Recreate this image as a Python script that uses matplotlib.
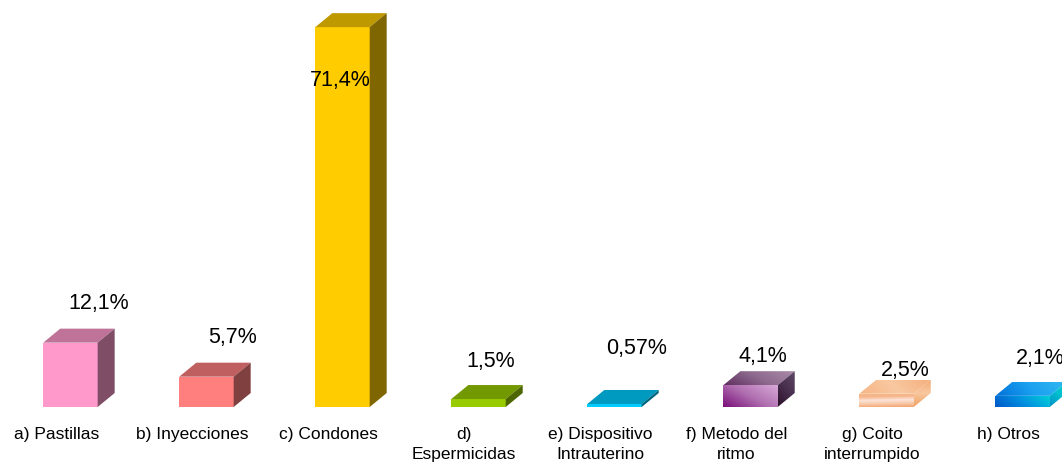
import matplotlib
matplotlib.use("Agg")
import matplotlib.pyplot as plt
import numpy as np
from matplotlib.patches import Polygon
from matplotlib.colors import LinearSegmentedColormap

plt.rcParams['font.family'] = ['Liberation Sans', 'DejaVu Sans']

categories = ["a) Pastillas", "b) Inyecciones", "c) Condones", "d)\nEspermicidas",
              "e) Dispositivo\nIntrauterino", "f) Metodo del\nritmo",
              "g) Coito\ninterrumpido", "h) Otros"]
values = [12.1, 5.7, 71.4, 1.5, 0.57, 4.1, 2.5, 2.1]
value_labels = ["12,1%", "5,7%", "71,4%", "1,5%", "0,57%", "4,1%", "2,5%", "2,1%"]

# where each value label sits relative to the top of its bar (x units, % units)
label_dx = [0.21, 0.19, -0.02, 0.09, 0.165, 0.09, 0.14, 0.13]
label_dy = [7.4, 7.45, -10.0, 7.1, 10.5, 5.3, 4.45, 7.1]

# (front, top, side) for the plain bars; None means a gradient is drawn instead
face_colors = [
    ("#FF99CC", "#BF7399", "#804D66"),
    ("#FF7F7F", "#BF5F5F", "#804040"),
    ("#FFCC00", "#BF9900", "#806600"),
    ("#99CC00", "#739900", "#4D6600"),
    ("#00CCFF", "#0099BF", "#006680"),
    None, None, None,
]
# gradient faces: (front, top, side), each (colors, angle in degrees)
grad_faces = {
    5: ((["#7A0F7A", "#B070B0", "#D8A8D8"], 35),
        (["#5E2E5E", "#8E6A8E", "#A88AA8"], 20),
        (["#2A1028", "#4A3050", "#5E4A66"], 60)),
    6: ((["#F4A46C", "#F8C8A8", "#FCE4DA", "#F6B488", "#F8B888"], 95),
        (["#F7B585", "#F9C8A0", "#F5B080"], 10),
        (["#F0A060", "#F8C8A0", "#F3AA70"], 90)),
    7: ((["#0058C8", "#0090E0", "#00D0D8"], 15),
        (["#0070D8", "#1AA0F0", "#30B8F0"], 10),
        (["#0090C8", "#00C0D0", "#10D0C8"], 60)),
}

width = 0.4
dx, dy = 0.125, 2.63

fig = plt.figure(figsize=(10.62, 4.7), dpi=100)
ax = fig.add_axes([0, 0, 1, 1])
ax.axis('off')

x = np.arange(len(categories))


def gradient_fill(ax, patch, colors, angle):
    ax.add_patch(patch)
    patch.set_facecolor('none')
    patch.set_linewidth(0)
    verts = patch.get_xy()
    x0, x1 = verts[:, 0].min(), verts[:, 0].max()
    y0, y1 = verts[:, 1].min(), verts[:, 1].max()
    a = np.deg2rad(angle)
    u, v = np.meshgrid(np.linspace(0, 1, 60), np.linspace(0, 1, 60))
    t = u * np.cos(a) + v * np.sin(a)
    t = (t - t.min()) / (t.max() - t.min())
    cmap = LinearSegmentedColormap.from_list("g", colors)
    im = ax.imshow(t, cmap=cmap, extent=(x0, x1, y0, y1), origin='lower',
                   aspect='auto', interpolation='bilinear', zorder=2)
    im.set_clip_path(patch)


for i, (xi, h) in enumerate(zip(x, values)):
    L, R = xi - width / 2, xi + width / 2
    front = [(L, 0), (R, 0), (R, h), (L, h)]
    top = [(L, h), (R, h), (R + dx, h + dy), (L + dx, h + dy)]
    side = [(R, 0), (R + dx, dy), (R + dx, h + dy), (R, h)]
    if face_colors[i] is not None:
        cf, ct, cs = face_colors[i]
        ax.bar(xi, h, width=width, color=cf, linewidth=0, zorder=2)
        ax.add_patch(Polygon(top, closed=True, facecolor=ct, linewidth=0, zorder=2))
        ax.add_patch(Polygon(side, closed=True, facecolor=cs, linewidth=0, zorder=2))
    else:
        gf, gt, gs = grad_faces[i]
        gradient_fill(ax, Polygon(front, closed=True), *gf)
        gradient_fill(ax, Polygon(top, closed=True), *gt)
        gradient_fill(ax, Polygon(side, closed=True), *gs)

    ax.text(xi + label_dx[i], h + label_dy[i], value_labels[i], ha='center',
            va='center', fontsize=15.5, color='black', zorder=5)
    ax.text(xi - 0.105, -3.7, categories[i], ha='center', va='top',
            fontsize=12.5, color='black', linespacing=1.45)

ax.set_xlim(-0.518, 7.29)
ax.set_ylim(-11.84, 76.5)

fig.savefig("out.png", dpi=100, facecolor='white')
